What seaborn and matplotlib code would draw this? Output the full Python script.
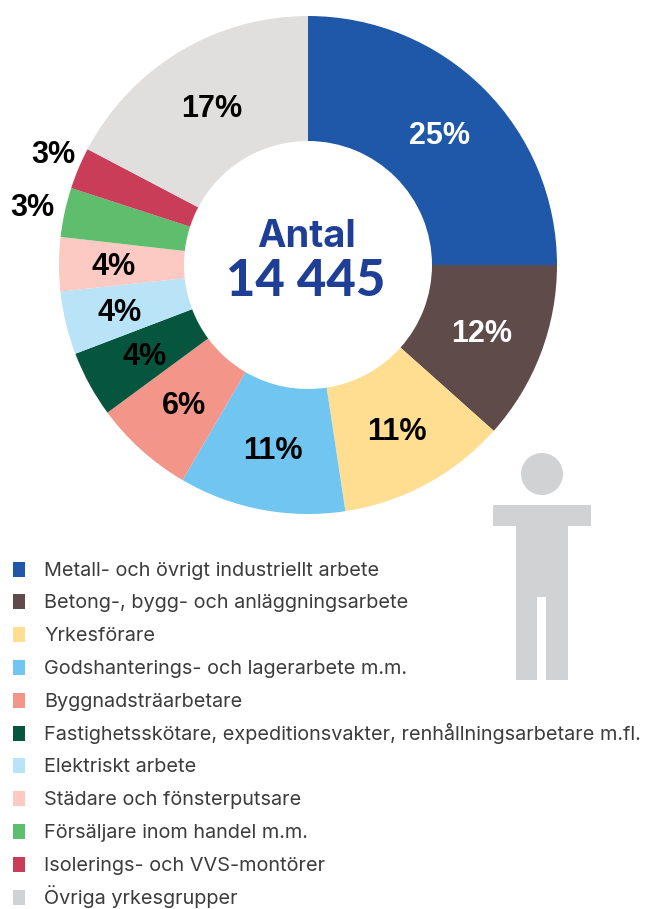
import matplotlib
matplotlib.use("Agg")
import matplotlib.pyplot as plt
from matplotlib.patches import Circle, Polygon, Rectangle
import numpy as np
import seaborn as sns

# Shares (the printed labels are rounded)
categories = [
    "Metall- och övrigt industriellt arbete",
    "Betong-, bygg- och anläggningsarbete",
    "Yrkesförare",
    "Godshanterings- och lagerarbete m.m.",
    "Byggnadsträarbetare",
    "Fastighetsskötare, expeditionsvakter, renhållningsarbetare m.fl.",
    "Elektriskt arbete",
    "Städare och fönsterputsare",
    "Försäljare inom handel m.m.",
    "Isolerings- och VVS-montörer",
    "Övriga yrkesgrupper",
]
shares = [25.0, 11.6, 11.0, 10.8, 6.5, 4.3, 4.1, 3.5, 3.2, 2.7, 17.3]
pct_labels = ["25%", "12%", "11%", "11%", "6%", "4%", "4%", "4%", "3%", "3%", "17%"]
total_title = "Antal"
total_value = "14 445"

colors = ["#1F58A8", "#5F4B4A", "#FFDE92", "#70C6F0", "#F4958A", "#06563F",
          "#B9E3F6", "#FDC9C3", "#5FBD6E", "#C93D59", "#E0DFDD"]
legend_grey = "#D1D2D4"
navy = "#1F3F96"

sns.set_theme(style="white", palette=colors)
plt.rcParams["font.family"] = ["Inter", "DejaVu Sans"]

W, H = 646, 909
fig = plt.figure(figsize=(W / 100, H / 100), dpi=100)
ax = fig.add_axes([0, 0, 1, 1])

# axes units are pixels, y measured from the bottom
cx, cy, radius = 308, H - 265, 249
wedges, _ = ax.pie(shares, colors=sns.color_palette(colors), startangle=90, counterclock=False,
                   center=(cx, cy), radius=radius, wedgeprops=dict(width=125, linewidth=0))
ax.set_xlim(0, W)
ax.set_ylim(0, H)
ax.set_aspect("equal")
ax.axis("off")

# percent labels at each wedge's mid angle, the two smallest outside the ring
for w, lab, val in zip(wedges, pct_labels, shares):
    angle = (w.theta1 + w.theta2) / 2
    if val < 3.4:
        r = 279 if val < 3 else 282
        angle -= 1 if val < 3 else 0
    elif val < 4.2:
        r = 194
    else:
        r = 186
    mid = np.deg2rad(angle)
    color = "white" if lab in ("25%", "12%") else "black"
    ax.text(cx + r * np.cos(mid), cy + r * np.sin(mid) - 3, lab, ha="center", va="center",
            fontsize=22, fontweight="bold", family=["Liberation Sans"], color=color)

ax.text(306, H - 237, total_title, ha="center", va="center", fontsize=27.5, fontweight="bold", color=navy)
ax.text(306, H - 281, total_value, ha="center", va="center", fontsize=36.5, fontweight="black",
        family=["Lato"], color=navy)

# person pictogram
ax.add_patch(Circle((542, H - 474), 21, color=legend_grey, lw=0))
person = [(493, 505), (591, 505), (591, 526), (568, 526), (568, 680), (546, 680), (546, 597),
          (537, 597), (537, 680), (516, 680), (516, 526), (493, 526)]
ax.add_patch(Polygon([(x, H - y) for x, y in person], closed=True, color=legend_grey, lw=0))

# legend rows on a fixed pitch, a real legend jitters with the glyph heights
for i, (c, lab) in enumerate(zip(colors[:-1] + [legend_grey], categories)):
    y = H - (569 + i * 32.8)
    ax.add_patch(Rectangle((13, y - 7.5), 12, 15, color=c, lw=0))
    ax.text(44, y - 6.5, lab, ha="left", va="baseline", fontsize=14.3, color="#3C3C3C")

fig.savefig("out.png", dpi=100)
